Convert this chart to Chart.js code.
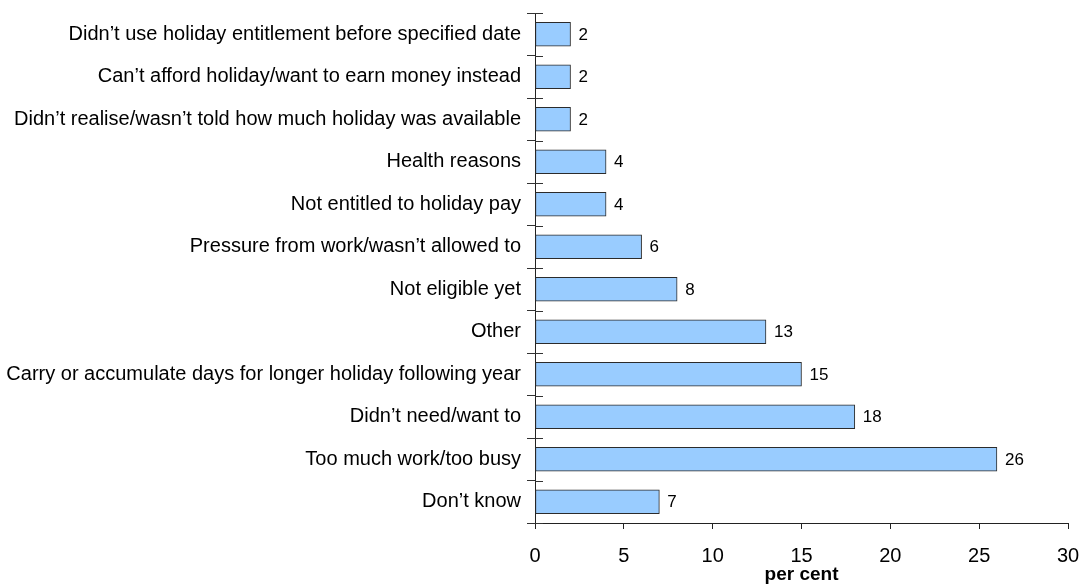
<!DOCTYPE html>
<html>
<head>
<meta charset="utf-8">
<script src="https://cdn.jsdelivr.net/npm/chart.js@4"></script>
<style>
    body { margin: 0; background: #fff; }
    #wrap { width: 1085px; height: 587px; }
</style>
</head>
<body>
<div id="wrap"><canvas id="myChart" width="1085" height="587"></canvas></div>
<script>
const reasons = [
    'Didn\u2019t use holiday entitlement before specified date',
    'Can\u2019t afford holiday/want to earn money instead',
    'Didn\u2019t realise/wasn\u2019t told how much holiday was available',
    'Health reasons',
    'Not entitled to holiday pay',
    'Pressure from work/wasn\u2019t allowed to',
    'Not eligible yet',
    'Other',
    'Carry or accumulate days for longer holiday following year',
    'Didn\u2019t need/want to',
    'Too much work/too busy',
    'Don\u2019t know'
];

const perCent = [2, 2, 2, 4, 4, 6, 8, 13, 15, 18, 26, 7];

const xTicks = [0, 5, 10, 15, 20, 25, 30];

const fontFamily = '"Liberation Sans", Arial, sans-serif';

// writes the value just past the end of each bar
const valueLabels = {
    id: 'valueLabels',
    afterDatasetsDraw: (chart) => {
        const { ctx } = chart;
        const meta = chart.getDatasetMeta(0);
        ctx.save();
        ctx.font = '17px ' + fontFamily;
        ctx.fillStyle = '#000';
        ctx.textAlign = 'left';
        ctx.textBaseline = 'middle';
        meta.data.forEach((bar, i) => {
            ctx.fillText(perCent[i], bar.x + 8, bar.y + 1);
        });
        ctx.restore();
    }
};

// short marks on the inner side of the category axis, between the bars
const innerTicks = {
    id: 'innerTicks',
    afterDraw: (chart) => {
        const { ctx } = chart;
        const y = chart.scales.y;
        const half = (y.getPixelForTick(1) - y.getPixelForTick(0)) / 2;
        ctx.save();
        ctx.strokeStyle = '#333';
        ctx.lineWidth = 1;
        ctx.beginPath();
        for (let i = 0; i <= reasons.length; i++) {
            const py = Math.round(y.getPixelForTick(0) - half + i * half * 2) + 0.5;
            ctx.moveTo(y.right, py);
            ctx.lineTo(y.right + 8, py);
        }
        ctx.stroke();
        ctx.restore();
    }
};

const ctx = document.getElementById('myChart');

new Chart(ctx, {
    type: 'bar',
    data: {
        labels: reasons,
        datasets: [{
            data: perCent,
            backgroundColor: '#99ccff',
            borderColor: '#2b2b2b',
            borderWidth: 1,
            borderSkipped: false,
            barThickness: 24
        }]
    },
    options: {
        indexAxis: 'y',
        responsive: false,
        animation: false,
        layout: {
            padding: { top: 13, right: 17, left: 0, bottom: 0 }
        },
        plugins: {
            legend: { display: false },
            tooltip: { enabled: false }
        },
        scales: {
            x: {
                min: 0,
                max: 30,
                afterBuildTicks: (scale) => {
                    scale.ticks = xTicks.map(v => ({ value: v }));
                },
                afterFit: (scale) => {
                    scale.height = 64;
                    scale.paddingLeft = 0;
                    scale.paddingRight = 0;
                },
                grid: {
                    drawOnChartArea: false,
                    tickLength: 6,
                    color: '#222'
                },
                border: { color: '#222', width: 1 },
                ticks: {
                    font: { family: fontFamily, size: 20 },
                    color: '#000',
                    padding: 15
                },
                title: {
                    display: true,
                    text: 'per cent',
                    font: { family: fontFamily, size: 19, weight: 'bold' },
                    color: '#000',
                    padding: { top: -4, bottom: 1 }
                }
            },
            y: {
                afterFit: (scale) => {
                    scale.width = 535;
                    scale.paddingTop = 0;
                    scale.paddingBottom = 0;
                },
                grid: {
                    offset: true,
                    drawOnChartArea: false,
                    tickLength: 8,
                    color: '#333'
                },
                border: { color: '#222', width: 1 },
                ticks: {
                    font: { family: fontFamily, size: 20 },
                    color: '#000',
                    padding: 6,
                    autoSkip: false
                }
            }
        }
    },
    plugins: [valueLabels, innerTicks]
});
</script>
</body>
</html>
